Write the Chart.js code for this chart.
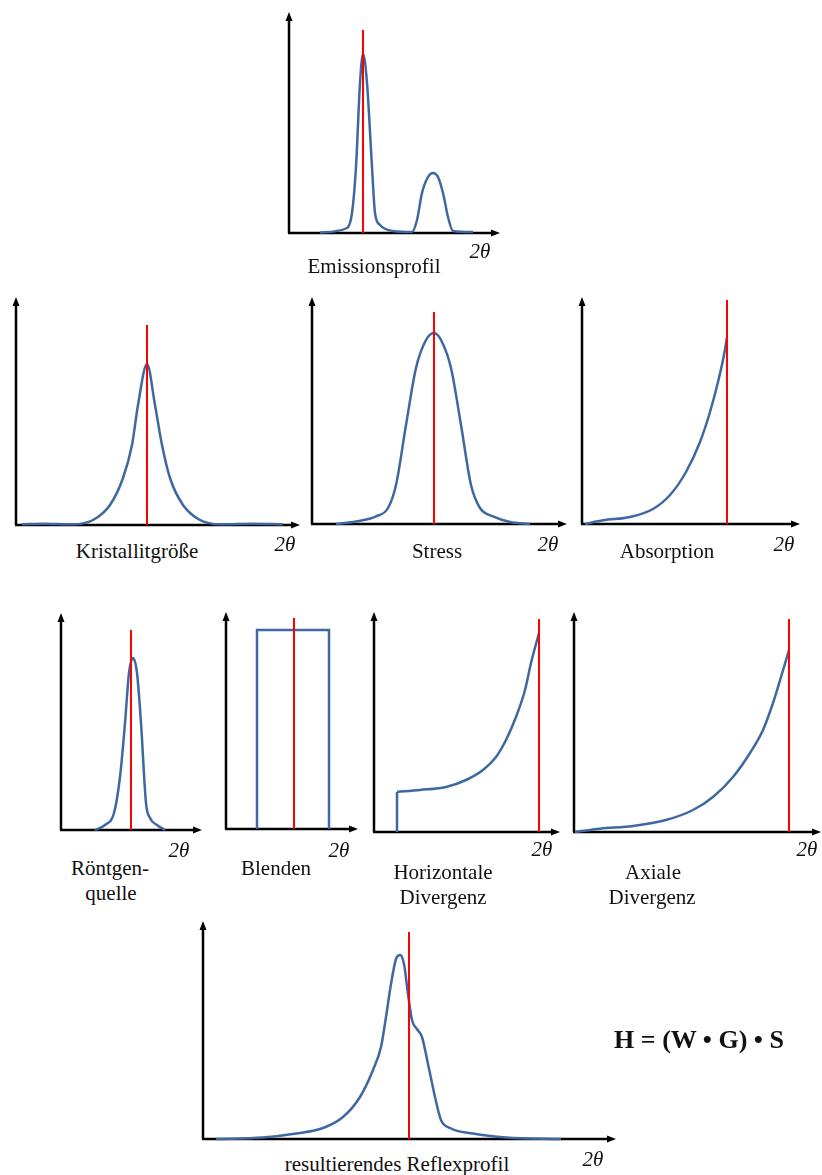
<!DOCTYPE html>
<html>
<head>
<meta charset="utf-8">
<script src="https://cdn.jsdelivr.net/npm/chart.js@4"></script>
<style>
  html, body { margin: 0; padding: 0; background: #fff; overflow: hidden; }
  body { width: 822px; height: 1175px; position: relative; font-family: "Liberation Serif", "DejaVu Serif", serif; }
  canvas { position: absolute; }
  .lbl { position: absolute; transform: translate(-50%, -50%); font-size: 21px; line-height: 1; white-space: nowrap; color: #111; }
  .theta { font-style: italic; }
  .formula { font-weight: bold; font-size: 26px; }
</style>
</head>
<body>
<script>
// values: x = distance along 2θ axis, y = intensity (both in px-like units)
const emissionX = [31, 58, 63, 67, 71, 74, 78, 83, 86, 91, 104, 123, 128, 133, 139, 144, 149, 154, 159, 164, 184];
const emissionY = [0.5, 5, 20, 66, 150, 179, 150, 66, 20, 8, 2, 1, 13, 40, 56, 60, 56, 40, 16, 2, 1];
const emissionRef = [74, 203];

const kristallX = [6, 27, 57, 77, 94, 107, 116, 122, 131, 139, 146, 154, 167, 184, 204, 237, 267];
const kristallY = [0.7, 1.3, 0.7, 5, 20, 47, 80, 120, 161, 120, 80, 47, 20, 5, 0.7, 1.3, 0.7];
const kristallRef = [131, 200];

const stressX = [24, 44, 64, 76, 84, 94, 104, 114, 122, 129, 139, 149, 159, 168, 181, 198, 218];
const stressY = [0, 2.6, 7.6, 16, 39, 99, 156, 184, 191, 184, 156, 99, 39, 16, 7.6, 2, 0];
const stressRef = [122, 212];

const absorbX = [3, 21, 48, 71, 88, 104, 118, 128, 136, 142, 145];
const absorbY = [0, 3.7, 7, 15, 29, 52, 82, 112, 142, 169, 187];
const absorbRef = [145, 224];

const roentgenX = [34, 44, 53, 59, 64, 68, 72, 76, 80, 85, 89, 96, 104];
const roentgenY = [0, 5, 17, 53, 107, 157, 172, 157, 107, 27, 12, 5, 0];
const roentgenRef = [70, 200];

const blendenX = [31, 31, 103, 103];
const blendenY = [0, 199, 199, 0];
const blendenRef = [68, 211];

const horizStepX = [23, 23];
const horizStepY = [0, 40];
const horizX = [23, 46, 72, 92, 109, 122, 132, 142, 151, 157, 165];
const horizY = [40, 42, 45, 52, 62, 75, 92, 115, 142, 169, 199];
const horizRef = [165, 213];

const axialX = [1, 26, 59, 92, 119, 139, 159, 176, 189, 199, 207, 215];
const axialY = [0, 3.3, 6, 12, 22, 35, 55, 79, 102, 129, 155, 182];
const axialRef = [215, 213];

const reflexX = [13, 60, 93, 120, 140, 157, 170, 178, 183, 188, 193, 197, 201, 205, 209, 214, 219, 225, 232, 238, 247, 270, 303, 358];
const reflexY = [0, 1.4, 5.4, 11, 22, 42, 69, 92, 122, 155, 180, 184, 175, 145, 119, 110, 102, 75, 42, 19, 11, 5.4, 1.4, 0];
const reflexRef = [206, 207];

const BLUE = '#3f68a0';
const RED = '#ff0000';

const pts = (xs, ys) => xs.map((x, i) => ({ x: x, y: ys[i] }));

// panel boxes: origin x, baseline y, top of y arrow, tip of x arrow
const panels = [
  { ox: 289, base: 233, top: 12, right: 500, ref: emissionRef, curves: [[emissionX, emissionY, true]] },
  { ox: 16, base: 525, top: 297, right: 300, ref: kristallRef, curves: [[kristallX, kristallY, true]] },
  { ox: 312, base: 524, top: 297, right: 567, ref: stressRef, curves: [[stressX, stressY, true]] },
  { ox: 582, base: 524, top: 297, right: 800, ref: absorbRef, curves: [[absorbX, absorbY, true]] },
  { ox: 61, base: 830, top: 613, right: 202, ref: roentgenRef, curves: [[roentgenX, roentgenY, true]] },
  { ox: 226, base: 829, top: 612, right: 358, ref: blendenRef, curves: [[blendenX, blendenY, false]] },
  { ox: 374, base: 832, top: 612, right: 560, ref: horizRef, curves: [[horizStepX, horizStepY, false], [horizX, horizY, true]] },
  { ox: 574, base: 832, top: 612, right: 821, ref: axialRef, curves: [[axialX, axialY, true]] },
  { ox: 203, base: 1139, top: 921, right: 616, ref: reflexRef, curves: [[reflexX, reflexY, true]] }
];

const axesPlugin = {
  id: 'arrowAxes',
  beforeDatasetsDraw(chart) {
    const { ctx, chartArea } = chart;
    const { left, top, right, bottom } = chartArea;
    ctx.save();
    ctx.strokeStyle = '#000';
    ctx.fillStyle = '#000';
    ctx.lineWidth = 2.5;
    ctx.beginPath();
    ctx.moveTo(left, bottom);
    ctx.lineTo(left, top + 6);
    ctx.moveTo(left - 1, bottom);
    ctx.lineTo(right - 6, bottom);
    ctx.stroke();
    ctx.beginPath();
    ctx.moveTo(left, top);
    ctx.lineTo(left - 3.5, top + 9);
    ctx.lineTo(left + 3.5, top + 9);
    ctx.closePath();
    ctx.moveTo(right, bottom);
    ctx.lineTo(right - 9, bottom - 3.5);
    ctx.lineTo(right - 9, bottom + 3.5);
    ctx.closePath();
    ctx.fill();
    ctx.restore();
  }
};

const PAD = 10;
panels.forEach(p => {
  const w = p.right - p.ox;
  const h = p.base - p.top;
  const canvas = document.createElement('canvas');
  canvas.width = w + PAD * 2;
  canvas.height = h + PAD * 2;
  canvas.style.left = (p.ox - PAD) + 'px';
  canvas.style.top = (p.top - PAD) + 'px';
  document.body.appendChild(canvas);

  const datasets = [{
    data: pts([p.ref[0], p.ref[0]], [0, p.ref[1]]),
    borderColor: RED,
    borderWidth: 2,
    tension: 0,
    clip: false
  }];
  p.curves.forEach(c => {
    datasets.push({
      data: pts(c[0], c[1]),
      borderColor: BLUE,
      borderWidth: 2.5,
      cubicInterpolationMode: c[2] ? 'monotone' : 'default',
      tension: 0,
      clip: false
    });
  });

  new Chart(canvas, {
    type: 'line',
    data: { datasets: datasets },
    options: {
      responsive: false,
      animation: false,
      events: [],
      layout: { padding: PAD },
      elements: { point: { radius: 0 } },
      plugins: { legend: { display: false }, tooltip: { enabled: false } },
      scales: {
        x: { type: 'linear', display: false, min: 0, max: w },
        y: { type: 'linear', display: false, min: 0, max: h }
      }
    },
    plugins: [axesPlugin]
  });
});

const labels = [
  ['Emissionsprofil', 374, 266, ''], ['2θ', 480, 251, 'theta'],
  ['Kristallitgröße', 137, 551, ''], ['2θ', 285, 544, 'theta'],
  ['Stress', 437, 551, ''], ['2θ', 548, 544, 'theta'],
  ['Absorption', 667, 551, ''], ['2θ', 784, 544, 'theta'],
  ['Röntgen-', 110, 868, ''], ['quelle', 111, 893, ''], ['2θ', 179, 850, 'theta'],
  ['Blenden', 276, 868, ''], ['2θ', 339, 850, 'theta'],
  ['Horizontale', 443, 872, ''], ['Divergenz', 443, 897, ''], ['2θ', 542, 849, 'theta'],
  ['Axiale', 653, 872, ''], ['Divergenz', 652, 897, ''], ['2θ', 807, 849, 'theta'],
  ['resultierendes Reflexprofil', 397, 1164, ''], ['2θ', 593, 1159, 'theta'],
  ['H = (W • G) • S', 699, 1040, 'formula']
];
labels.forEach(l => {
  const d = document.createElement('div');
  d.className = 'lbl ' + l[3];
  d.textContent = l[0];
  d.style.left = l[1] + 'px';
  d.style.top = l[2] + 'px';
  document.body.appendChild(d);
});
</script>
</body>
</html>
